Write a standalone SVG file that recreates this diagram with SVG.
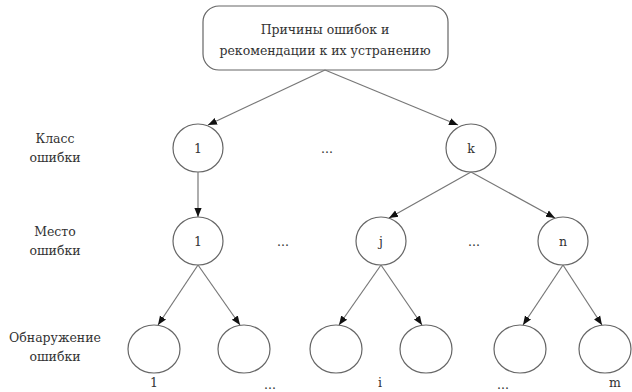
<svg xmlns="http://www.w3.org/2000/svg" width="632" height="392" viewBox="0 0 632 392">
<defs>
<marker id="ah" viewBox="0 0 10 10" refX="10" refY="5" markerWidth="9" markerHeight="9" markerUnits="userSpaceOnUse" orient="auto">
<path d="M0,1 L10,5 L0,9 Z" fill="#111"/>
</marker>
<style>
.n{fill:#fff;stroke:#666;stroke-width:1.2}
.e{stroke:#777;stroke-width:1.2;fill:none;marker-end:url(#ah)}
</style>
</defs>
<rect width="632" height="392" fill="#fff"/>
<g font-family="'DejaVu Serif', serif" font-size="12.5" fill="#333" text-anchor="middle">
<g id="root"><rect class="n" x="203" y="6" width="245" height="64" rx="16"/>
<text x="325" y="34">Причины ошибок и</text>
<text x="325" y="55">рекомендации к их устранению</text></g>
<g id="labels">
<text x="55" y="143">Класс</text><text x="55" y="162">ошибки</text>
<text x="55" y="236">Место</text><text x="55" y="255">ошибки</text>
<text x="55" y="342">Обнаружение</text><text x="55" y="361">ошибки</text>
</g>
<g id="c1"><ellipse class="n" cx="198" cy="148" rx="25" ry="24"/><text x="198" y="153">1</text></g>
<g id="ck"><ellipse class="n" cx="471" cy="148" rx="25" ry="24"/><text x="471" y="153">k</text></g>
<text x="327" y="153">...</text>
<g id="p1"><ellipse class="n" cx="198" cy="241" rx="25" ry="24"/><text x="198" y="246">1</text></g>
<g id="pj"><ellipse class="n" cx="381" cy="241" rx="25" ry="24"/><text x="381" y="246">j</text></g>
<g id="pn"><ellipse class="n" cx="563" cy="241" rx="25" ry="24"/><text x="563" y="246">n</text></g>
<text x="283" y="246">...</text>
<text x="474" y="246">...</text>
<g id="d1"><ellipse class="n" cx="154" cy="349" rx="26" ry="24"/></g>
<g id="d2"><ellipse class="n" cx="244" cy="349" rx="26" ry="24"/></g>
<g id="d3"><ellipse class="n" cx="336" cy="349" rx="26" ry="24"/></g>
<g id="d4"><ellipse class="n" cx="426" cy="349" rx="26" ry="24"/></g>
<g id="d5"><ellipse class="n" cx="520" cy="349" rx="26" ry="24"/></g>
<g id="d6"><ellipse class="n" cx="605" cy="349" rx="26" ry="24"/></g>
<g id="bottom">
<text x="154" y="387">1</text>
<text x="270" y="389">...</text>
<text x="380" y="387">i</text>
<text x="503" y="389">...</text>
<text x="615" y="387">m</text>
</g>
</g>
<g id="connectors">
<line class="e" x1="325" y1="70" x2="208" y2="125"/>
<line class="e" x1="325" y1="70" x2="458" y2="125"/>
<line class="e" x1="198" y1="172" x2="198" y2="217"/>
<line class="e" x1="471" y1="172" x2="389" y2="218"/>
<line class="e" x1="471" y1="172" x2="555" y2="218"/>
<line class="e" x1="198" y1="265" x2="158" y2="325"/>
<line class="e" x1="198" y1="265" x2="240" y2="325"/>
<line class="e" x1="381" y1="265" x2="339" y2="325"/>
<line class="e" x1="381" y1="265" x2="422" y2="325"/>
<line class="e" x1="563" y1="265" x2="523" y2="325"/>
<line class="e" x1="563" y1="265" x2="602" y2="325"/>
</g>
</svg>
